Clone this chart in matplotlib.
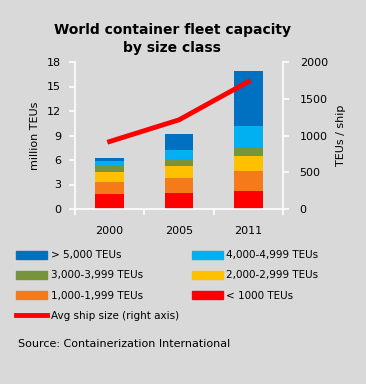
import numpy as np
import matplotlib.pyplot as plt
from matplotlib.patches import Patch
from matplotlib.lines import Line2D

years = ['2000', '2005', '2011']
classes = ['< 1000 TEUs', '1,000-1,999 TEUs', '2,000-2,999 TEUs',
           '3,000-3,999 TEUs', '4,000-4,999 TEUs', '> 5,000 TEUs']
colors = ['#FF0000', '#F47A1A', '#FFC000', '#77933C', '#00B0F0', '#0070C0']
# million TEUs per size class, bottom to top
cap_lt1000 = [1.79, 1.95, 2.20]
cap_1000 = [1.55, 1.88, 2.48]
cap_2000 = [1.18, 1.38, 1.87]
cap_3000 = [0.69, 0.89, 1.02]
cap_4000 = [0.61, 1.15, 2.61]
cap_5000 = [0.45, 1.95, 6.68]
avg_size = [918, 1213, 1733]

bg = '#D9D9D9'
plt.rcParams['font.family'] = 'DejaVu Sans'

fig = plt.figure(figsize=(3.66, 3.84), dpi=100, facecolor=bg)
ax = fig.add_axes([75 / 366, 1 - 209 / 384, 208 / 366, 147 / 384])
ax.set_facecolor(bg)

x = np.arange(len(years))
bottom = np.zeros(len(years))
series = [cap_lt1000, cap_1000, cap_2000, cap_3000, cap_4000, cap_5000]
for vals, c in zip(series, colors):
    ax.bar(x, vals, 0.41, bottom=bottom, color=c, zorder=2)
    bottom += np.array(vals)

ax.set_xlim(-0.5, 2.5)
ax.set_ylim(0, 18)
ax.set_yticks(range(0, 19, 3))
ax.set_xticks([-0.5, 0.5, 1.5, 2.5])
ax.set_xticklabels([])
ax.set_xticks(x, minor=True)
ax.set_xticklabels(years, minor=True)
ax.tick_params(axis='x', which='major', length=4, color='white', width=1.2)
ax.tick_params(axis='x', which='minor', length=0, pad=12, labelsize=8)
ax.tick_params(axis='y', length=4, color='white', width=1.2, labelsize=8, pad=6)
for s in ['top', 'right']:
    ax.spines[s].set_visible(False)
for s in ['left', 'bottom']:
    ax.spines[s].set_color('white')
    ax.spines[s].set_linewidth(1.2)
ax.set_ylabel('million TEUs', fontsize=8, labelpad=5)

ax2 = ax.twinx()
ax2.plot(x, avg_size, color='#FF0000', lw=3.5, zorder=3)
ax2.set_ylim(0, 2000)
ax2.set_yticks(range(0, 2001, 500))
ax2.tick_params(axis='y', length=4, color='white', width=1.2, labelsize=8, pad=8)
for s in ['top', 'left', 'bottom']:
    ax2.spines[s].set_visible(False)
ax2.spines['right'].set_color('white')
ax2.spines['right'].set_linewidth(1.2)
ax2.set_ylabel('TEUs / ship', fontsize=8, labelpad=6)

fig.text(0.47, 1 - 39 / 384, 'World container fleet capacity\nby size class',
         ha='center', va='center', fontsize=10, fontweight='bold',
         linespacing=1.3)

handles = [Patch(color=colors[5]), Patch(color=colors[3]), Patch(color=colors[1]),
           Line2D([], [], color='#FF0000', lw=3.5),
           Patch(color=colors[4]), Patch(color=colors[2]), Patch(color=colors[0])]
labels = [classes[5], classes[3], classes[1], 'Avg ship size (right axis)',
          classes[4], classes[2], classes[0]]
fig.legend(handles, labels, ncol=2, loc='upper left',
           bbox_to_anchor=(12 / 366, 1 - 246 / 384), frameon=False,
           fontsize=7.5, handlelength=3.0, handleheight=0.8,
           handletextpad=0.3, columnspacing=1.25, labelspacing=0.98,
           borderaxespad=0)

fig.text(18 / 366, 1 - 344 / 384, 'Source: Containerization International',
         ha='left', va='center', fontsize=8)

fig.savefig('out.png', dpi=100, facecolor=bg)
